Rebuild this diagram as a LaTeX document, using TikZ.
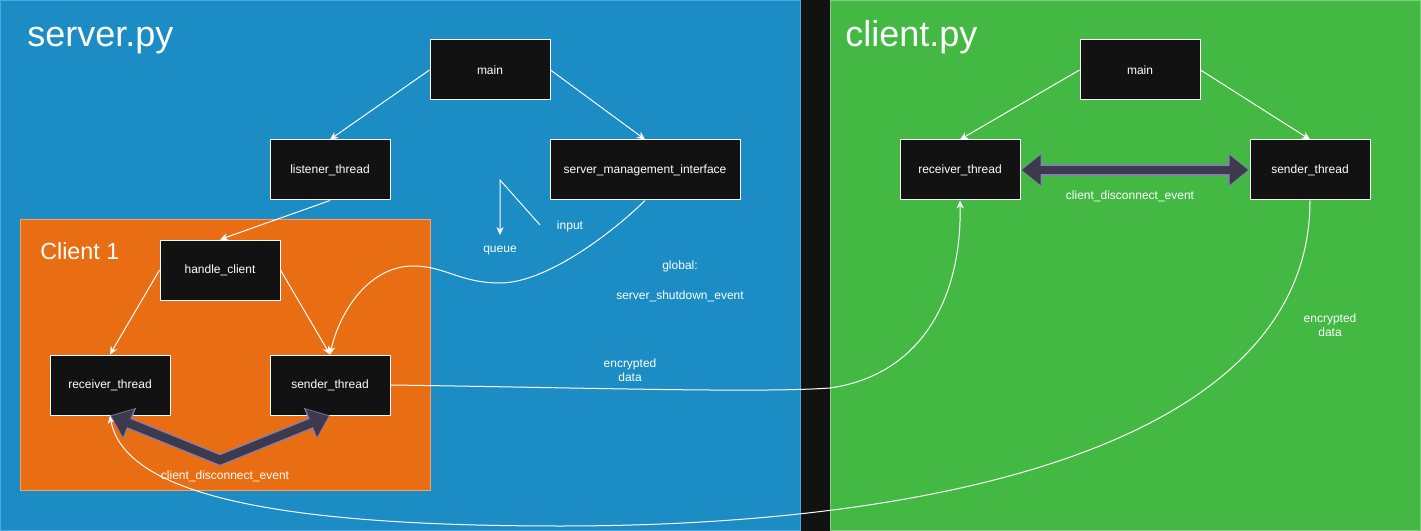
\documentclass[tikz,border=0pt]{standalone}
\usepackage{fontspec}
\setmainfont{Liberation Sans}
\usetikzlibrary{arrows.meta}
\definecolor{darkbg}{HTML}{121212}
\definecolor{serverblue}{HTML}{1B8CC4}
\definecolor{serveredge}{HTML}{4FA8E0}
\definecolor{clientgreen}{HTML}{43B944}
\definecolor{clientedge}{HTML}{7FD080}
\definecolor{clientorange}{HTML}{E86D13}
\definecolor{orangeedge}{HTML}{F7A06C}
\definecolor{evtfill}{HTML}{3D3A4E}
\definecolor{evtedge}{HTML}{8580B0}

\begin{document}
\begin{tikzpicture}[x=0.75pt, y=-0.75pt,
  box/.style={draw=white, line width=0.75pt, fill=darkbg, text=white, font=\fontsize{9}{11}\selectfont, minimum width=90pt, minimum height=45pt, inner sep=0pt},
  flow/.style={draw=white, line width=0.75pt, -{Stealth[length=6pt, width=5.5pt]}},
  lbl/.style={text=white, font=\fontsize{9}{10.5}\selectfont, inner sep=0pt, align=center},
  title/.style={text=white, inner sep=0pt, anchor=base west},
  evtout/.style={draw=evtedge, line width=8.5pt, {Triangle[length=16pt, width=24pt]}-{Triangle[length=16pt, width=24pt]}},
  evtin/.style={draw=evtfill, line width=6.5pt, shorten <=1pt, shorten >=1pt, {Triangle[length=14pt, width=21.5pt]}-{Triangle[length=14pt, width=21.5pt]}}]

\useasboundingbox (0,0) rectangle (1421,531);
\fill[darkbg] (0,0) rectangle (1421,531);
\draw[fill=serverblue, draw=serveredge, line width=0.75pt] (0.5,0.5) rectangle (800,530.5);
\draw[fill=clientgreen, draw=clientedge, line width=0.75pt] (830,0.5) rectangle (1420.5,530.5);
\draw[fill=clientorange, draw=orangeedge, line width=0.75pt] (20,220) rectangle (430,490);

\node[title, font=\fontsize{27}{30}\selectfont] (srvtitle) at (27,47) {server.py};
\node[title, font=\fontsize{27}{30}\selectfont] (clttitle) at (845,47) {client.py};
\node[title, font=\fontsize{17.5}{20}\selectfont] (c1title) at (40,259) {Client 1};

\node[box] (smain) at (490,70) {main};
\node[box] (listener) at (330,170) {listener\_thread};
\node[box, minimum width=142.5pt] (smi) at (645,170) {server\_management\_interface};
\node[box] (hclient) at (220,270) {handle\_client};
\node[box] (srecv) at (110,385) {receiver\_thread};
\node[box] (ssend) at (330,385) {sender\_thread};

\node[box] (cmain) at (1140,70) {main};
\node[box] (crecv) at (960,170) {receiver\_thread};
\node[box] (csend) at (1310,170) {sender\_thread};

\draw[flow] (smain.west) -- (listener.north);
\draw[flow] (smain.east) -- (smi.north);
\draw[flow] (listener.south) -- (hclient.north);
\draw[flow] (hclient.west) -- (srecv.north);
\draw[flow] (hclient.east) -- (ssend.north);
\draw[flow] (cmain.west) -- (crecv.north);
\draw[flow] (cmain.east) -- (csend.north);

\coordinate (inp) at (540,225);
\coordinate (qbend) at (500,180);
\coordinate (qend) at (500,235);
\draw[flow] (inp) -- (qbend) -- (qend);
\node[lbl] (inplbl) at (570,226) {input};
\node[lbl] (queuelbl) at (500,251) {queue};
\node[lbl] (globlbl) at (680,266) {global:};
\node[lbl] (shutlbl) at (680,296) {server\_shutdown\_event};

\draw[flow] (smi.south) .. controls (610,235) and (545,283) .. (500,283)
  .. controls (460,283) and (445,266) .. (413,266)
  .. controls (370,266) and (340,310) .. (ssend.north);
\draw[flow] (ssend.east) .. controls (600,388) and (760,393) .. (830,388)
  .. controls (920,375) and (962,300) .. (crecv.south);
\draw[flow] (csend.south) .. controls (1310,440) and (950,526) .. (560,526)
  .. controls (300,526) and (125,500) .. (srecv.south);
\node[lbl] (sdata) at (630,370) {encrypted\\data};
\node[lbl] (cdata) at (1330,325) {encrypted\\data};

\coordinate (evtbend) at (220,460);
\draw[evtout] (srecv.south) -- (evtbend) -- (ssend.south);
\draw[evtin] (srecv.south) -- (evtbend) -- (ssend.south);
\node[lbl] (sevt) at (225,476) {client\_disconnect\_event};

\draw[evtout] (crecv.east) -- (csend.west);
\draw[evtin] (crecv.east) -- (csend.west);
\node[lbl] (cevt) at (1130,196) {client\_disconnect\_event};

\end{tikzpicture}
\end{document}
